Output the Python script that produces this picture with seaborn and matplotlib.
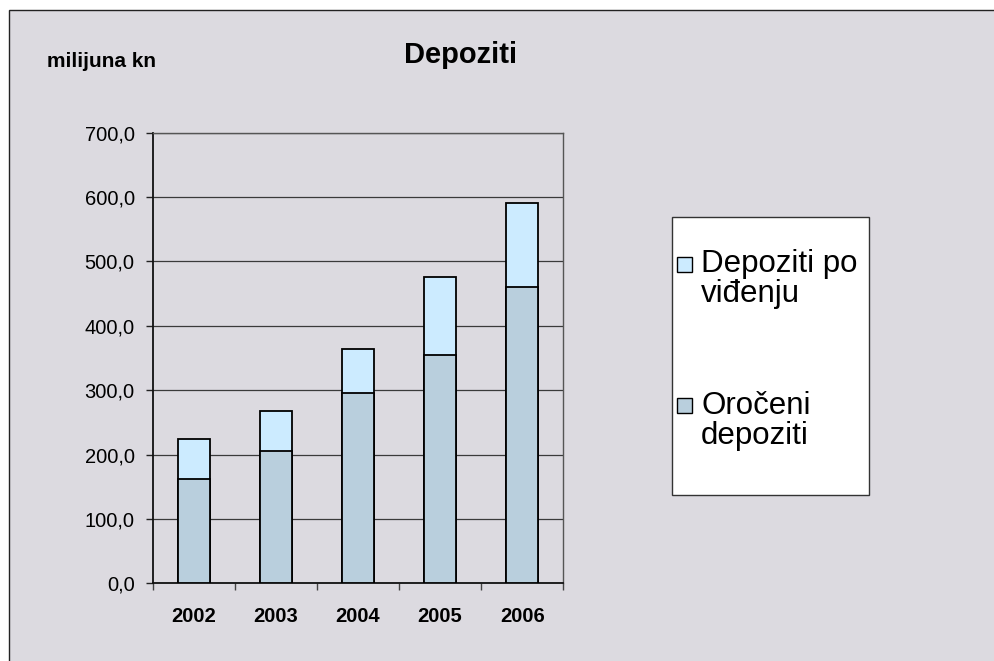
import numpy as np
import pandas as pd
import seaborn as sns
import matplotlib.pyplot as plt
from matplotlib.patches import Rectangle, Patch
from matplotlib.legend_handler import HandlerPatch
from matplotlib.ticker import FuncFormatter, MultipleLocator, FixedLocator

# podaci (milijuna kn)
godine = ['2002', '2003', '2004', '2005', '2006']
oroceni = [162, 206, 296, 355, 461]
po_vidjenju = [62, 62, 68, 121, 130]

boja_oroceni = '#B9CFDD'
boja_vidjenje = '#CCEBFF'
boja_pozadina = '#DCDAE0'

sns.set_style('white')
plt.rcParams['font.family'] = ['Liberation Sans', 'DejaVu Sans']
plt.rcParams['text.color'] = 'black'
plt.rcParams['xtick.color'] = 'black'
plt.rcParams['ytick.color'] = 'black'

df = pd.DataFrame({'godina': godine, 'oroceni': oroceni, 'vidjenje': po_vidjenju})
df['ukupno'] = df['oroceni'] + df['vidjenje']

fig = plt.figure(figsize=(9.95, 6.61), dpi=100, facecolor='white')
# okvir grafikona
fig.patches.append(Rectangle((9/995, -0.05), 1.2, 1 - 10/661 + 0.05, transform=fig.transFigure,
                             facecolor=boja_pozadina, edgecolor='#222222', lw=1.0, zorder=-10))

ax = fig.add_axes([0.1535, 0.1175, 0.4126, 0.6817])
ax.set_facecolor('none')

sns.barplot(data=df, x='godina', y='ukupno', color=boja_vidjenje, saturation=1, errorbar=None,
            width=0.39, edgecolor='black', linewidth=1.3, ax=ax, zorder=3)
sns.barplot(data=df, x='godina', y='oroceni', color=boja_oroceni, saturation=1, errorbar=None,
            width=0.39, edgecolor='black', linewidth=1.3, ax=ax, zorder=3)

ax.set_ylim(0, 700)
ax.set_xlim(-0.5, 4.5)
ax.yaxis.set_major_locator(MultipleLocator(100))
ax.yaxis.set_major_formatter(FuncFormatter(lambda v, p: f"{v:.1f}".replace('.', ',')))
ax.yaxis.grid(True, color='#3a3a3a', lw=0.9)
ax.set_axisbelow(True)
ax.set_xlabel('')
ax.set_ylabel('')

ax.xaxis.set_minor_locator(FixedLocator(np.arange(-0.5, 5, 1)))
ax.tick_params(axis='x', which='major', length=0, pad=17, labelsize=14.5, labelcolor='black')
ax.tick_params(axis='x', which='minor', length=5, width=1, color='#444444', direction='out', bottom=True)
ax.tick_params(axis='y', which='major', length=5, width=1, color='#222222', direction='out',
               pad=8, labelsize=14.5, left=True, labelcolor='black')
for lab in ax.get_xticklabels():
    lab.set_fontweight('bold')

for s in ['left', 'bottom']:
    ax.spines[s].set_color('#111111')
    ax.spines[s].set_linewidth(1.3)
for s in ['top', 'right']:
    ax.spines[s].set_color('#555555')
    ax.spines[s].set_linewidth(1.0)

fig.text(461/995, 1 - 63/661, 'Depoziti', ha='center', va='baseline', fontsize=21,
         fontweight='bold', color='black')
fig.text(46.7/995, 1 - 66.7/661, 'milijuna kn', ha='left', va='baseline', fontsize=15,
         fontweight='bold', color='black')

# legenda
fig.patches.append(Rectangle((671.7/995, 1 - 495/661), (869.3 - 671.7)/995, (495 - 216.7)/661,
                             transform=fig.transFigure, facecolor='white', edgecolor='#333333',
                             lw=1.0, zorder=1))


def kvadrat(legend, orig_handle, xdescent, ydescent, width, height, fontsize):
    a = 0.47 * fontsize
    return Rectangle((-xdescent, -ydescent + height / 2 - a / 2 + 0.5 * fontsize), a, a)


handles = [Patch(facecolor=boja_vidjenje, edgecolor='black', lw=1.0),
           Patch(facecolor=boja_oroceni, edgecolor='black', lw=1.0)]
labels = ['Depoziti po\nviđenju', 'Oročeni\ndepoziti']
leg = fig.legend(handles, labels, loc='center left', bbox_to_anchor=(677/995, 1 - 350/661),
                 frameon=False, fontsize=22.5, handlelength=0.47, handletextpad=0.3,
                 labelspacing=2.6, borderpad=0, borderaxespad=0,
                 handler_map={Patch: HandlerPatch(patch_func=kvadrat)})
leg.set_zorder(5)
for t in leg.get_texts():
    t.set_linespacing(1.0)
    t.set_color('black')

fig.savefig('out.png', dpi=100, facecolor='white')
